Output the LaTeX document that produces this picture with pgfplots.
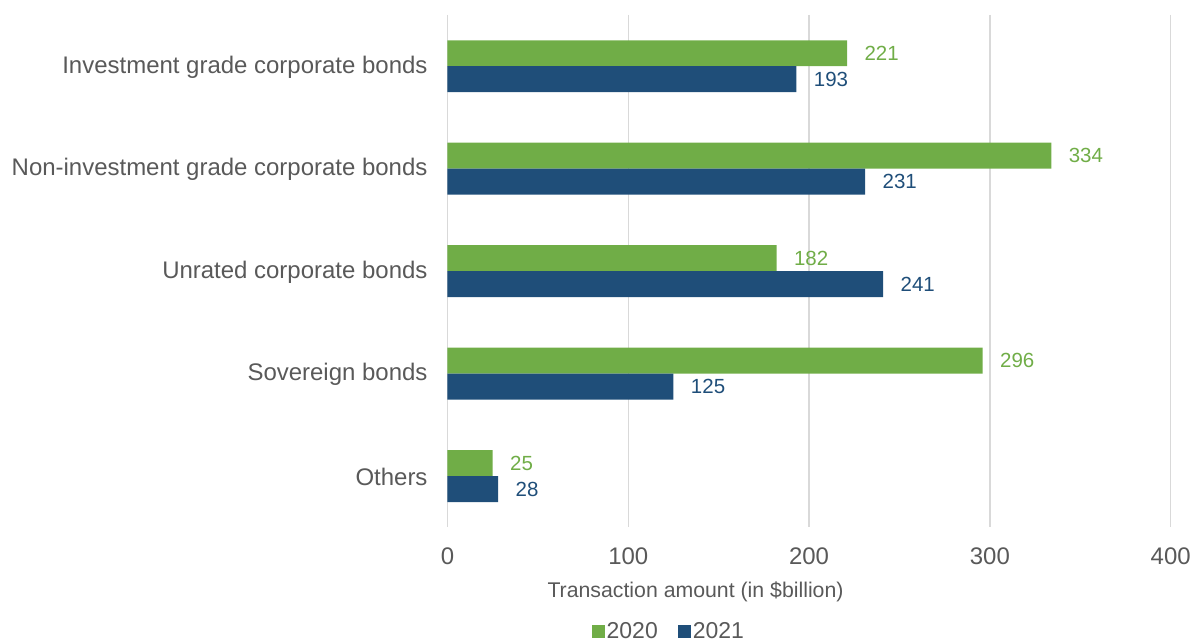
\documentclass[border=0pt]{standalone}
\usepackage{pgfplots}
\pgfplotsset{compat=1.18}
\usepackage{fontspec}
\setmainfont{Liberation Sans}
\definecolor{cgreen}{HTML}{70AD47}
\definecolor{cblue}{HTML}{1F4E79}
\definecolor{ctext}{HTML}{595959}
\definecolor{cgrid}{HTML}{D9D9D9}
\begin{document}
\begin{tikzpicture}
\begin{axis}[
    xbar=0pt,
    bar width=26pt,
    scale only axis,
    width=724pt, height=513pt,
    xmin=0, xmax=400,
    ymin=-0.5, ymax=4.5,
    y dir=reverse,
    xtick={0,100,200,300,400},
    ytick={0,1,2,3,4},
    yticklabels={Investment grade corporate bonds,Non-investment grade corporate bonds,Unrated corporate bonds,Sovereign bonds,Others},
    axis line style={draw=none},
    major tick length=0pt,
    xmajorgrids,
    grid style={cgrid, line width=1.5pt},
    tick label style={font=\fontsize{24}{28}\selectfont, color=ctext},
    yticklabel style={xshift=-16.5pt, yshift=-1pt},
    xticklabel style={yshift=-17pt},
    /pgf/number format/assume math mode=true,
    xlabel={Transaction amount (in \$billion)},
    xlabel style={font=\fontsize{21.3}{25}\selectfont, color=ctext, at={(rel axis cs:0.343,0)}, anchor=center, yshift=-64pt},
    legend style={draw=none, at={(rel axis cs:0.306,0)}, anchor=center, yshift=-104pt,
        font=\fontsize{23}{27}\selectfont, text=ctext, legend columns=2,
        inner sep=0pt, /tikz/every even column/.append style={column sep=18pt}},
    legend image code/.code={\fill[#1] (0pt,-6.5pt) rectangle (13pt,6.5pt);},
    nodes near coords,
    nodes near coords style={anchor=west, xshift=14pt, font=\fontsize{20.5}{24}\selectfont},
]
\addplot[fill=cgreen, draw=none, bar shift=13pt, nodes near coords style={text=cgreen}]
  coordinates {(221,0) (334,1) (182,2) (296,3) (25,4)};
\addplot[fill=cblue, draw=none, bar shift=-13pt, nodes near coords style={text=cblue}]
  coordinates {(193,0) (231,1) (241,2) (125,3) (28,4)};
\legend{2020,2021}
\end{axis}
\path (current axis.south west) ++(-448pt,-115pt) (current axis.north east) ++(22pt,15pt);
\end{tikzpicture}
\end{document}
